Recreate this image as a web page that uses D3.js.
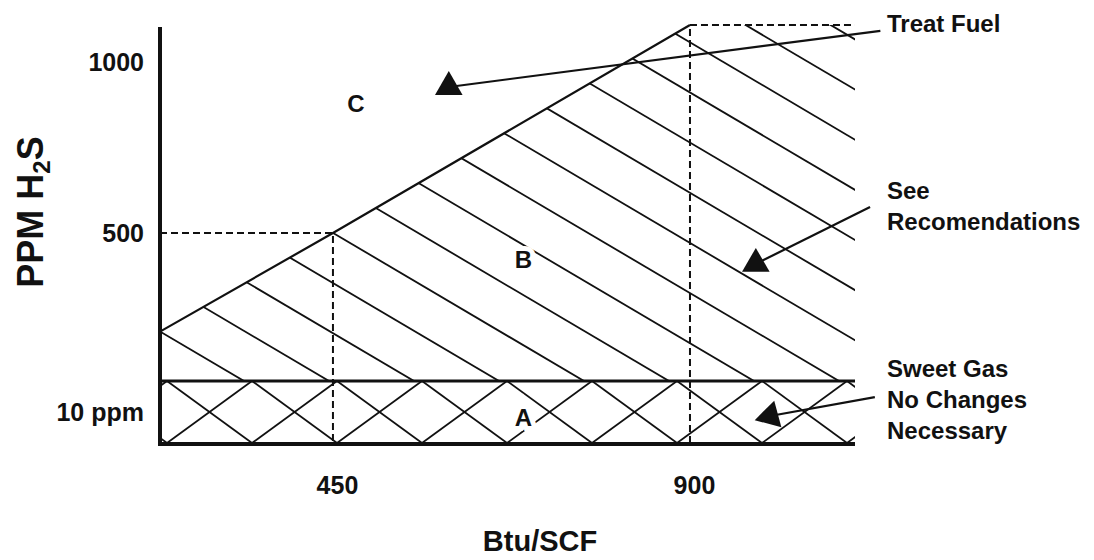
<!DOCTYPE html>
<html><head><meta charset="utf-8">
<script src="https://cdn.jsdelivr.net/npm/d3@7"></script>
<style>
html,body{margin:0;padding:0;background:#fff;}
svg{display:block;font-family:"Liberation Sans",Arial,Helvetica,sans-serif;font-weight:bold;}
</style></head><body>
<svg id="c" width="1094" height="560"></svg>
<script>
// ---- data ----
const xTicks = [450, 900];
const yTicks = [10, 500, 1000];
const yTickLabels = ["10 ppm", "500", "1000"];
const xDomain = [232, 1108];
const yBreaks = [0, 20, 500, 1000, 1108];
const boundary = [[232, 180], [450, 500], [900, 1108]];
const sweetLimit = 20;
const guide500 = [[232, 500], [450, 500], [450, 0]];
const guide900 = [[900, 0], [900, 1108], [1108, 1108]];
const zoneLabels = [
  {t: "C", btu: 479, ppm: 880},
  {t: "B", btu: 690, ppm: 416},
  {t: "A", btu: 690, ppm: 8.4}
];
const arrows = [
  {from: [1140, 1091], to: [596, 927], rot: 0},
  {from: [1127, 576], to: [983, 400], rot: 0},
  {from: [1133, 14.8], to: [1001, 8.7], rot: 15}
];
const notes = [
  {lines: ["Treat Fuel"], y: 32},
  {lines: ["See", "Recomendations"], y: 199},
  {lines: ["Sweet Gas", "No Changes", "Necessary"], y: 377}
];

// ---- layout ----
const svg = d3.select("#c");
const x = d3.scaleLinear().domain(xDomain).range([160, 855]);
const y = d3.scaleLinear().domain(yBreaks).range([443, 381, 233, 62, 25]);
const ink = "#111";
const P = d => [x(d[0]), y(d[1])];

const defs = svg.append("defs");
const regionB = boundary.concat([[xDomain[1], yBreaks[4]], [xDomain[1], sweetLimit], [xDomain[0], sweetLimit]]);
defs.append("clipPath").attr("id", "clipB")
  .append("path").attr("d", "M" + regionB.map(P).join("L") + "Z");
defs.append("clipPath").attr("id", "clipA")
  .append("rect").attr("x", x(xDomain[0])).attr("y", y(sweetLimit))
  .attr("width", x(xDomain[1]) - x(xDomain[0])).attr("height", y(0) - y(sweetLimit));

// hatch of region B
const spacing = 85, slopeB = 0.59, offB = -1;
const yb = y(sweetLimit);
const gB = svg.append("g").attr("clip-path", "url(#clipB)");
for (let k = 0; k <= 17; k++) {
  const xk = x(xDomain[0]) + offB + spacing * k;
  gB.append("line").attr("x1", xk - 1000).attr("y1", yb - slopeB * 1000)
    .attr("x2", xk + 20).attr("y2", yb + slopeB * 20)
    .attr("stroke", ink).attr("stroke-width", 1.8);
}
// cross hatch of band A
const y0 = y(0);
const gA = svg.append("g").attr("clip-path", "url(#clipA)");
for (let k = -1; k <= 9; k++) {
  const xa = x(xDomain[0]) + 7 + spacing * k;
  gA.append("line").attr("x1", xa).attr("y1", yb).attr("x2", xa + spacing).attr("y2", y0)
    .attr("stroke", ink).attr("stroke-width", 1.8);
  gA.append("line").attr("x1", xa).attr("y1", y0).attr("x2", xa + spacing).attr("y2", yb)
    .attr("stroke", ink).attr("stroke-width", 1.8);
}

const line = d3.line().x(d => x(d[0])).y(d => y(d[1]));
[guide500, guide900].forEach(g => svg.append("path").attr("d", line(g))
  .attr("fill", "none").attr("stroke", ink).attr("stroke-width", 2).attr("stroke-dasharray", "7 4"));
svg.append("path").attr("d", line(boundary)).attr("fill", "none").attr("stroke", ink).attr("stroke-width", 2.2);
svg.append("line").attr("x1", x(xDomain[0])).attr("x2", x(xDomain[1]))
  .attr("y1", y(sweetLimit)).attr("y2", y(sweetLimit)).attr("stroke", ink).attr("stroke-width", 3);
svg.append("line").attr("x1", x(xDomain[0])).attr("x2", x(xDomain[1]))
  .attr("y1", y(0) + 1).attr("y2", y(0) + 1).attr("stroke", ink).attr("stroke-width", 4);
svg.append("line").attr("x1", x(xDomain[0])).attr("x2", x(xDomain[0]))
  .attr("y1", y(yBreaks[4]) + 2).attr("y2", y(0) + 3).attr("stroke", ink).attr("stroke-width", 4);

// axes ticks
const ay = svg.append("g").attr("transform", `translate(${x(xDomain[0])},0)`)
  .call(d3.axisLeft(y).tickValues(yTicks).tickFormat((d, i) => yTickLabels[i]).tickSize(0).tickPadding(16));
const ax = svg.append("g").attr("transform", `translate(0,${y(0)})`)
  .call(d3.axisBottom(x).tickValues(xTicks).tickFormat(d3.format("d")).tickSize(0).tickPadding(33));
[ax, ay].forEach(a => {
  a.select(".domain").remove();
  a.attr("font-family", null).attr("font-size", null);
  a.selectAll("text").attr("font-size", 25).attr("fill", ink);
});
ax.selectAll("text").attr("dx", 4);

// axis titles
const yt = svg.append("text").attr("transform", "translate(43,212) rotate(-90)")
  .attr("text-anchor", "middle").attr("font-size", 36).attr("fill", ink);
yt.append("tspan").text("PPM H");
yt.append("tspan").text("2").attr("font-size", 24).attr("dy", 7);
yt.append("tspan").text("S").attr("dy", -7);
svg.append("text").attr("x", 540).attr("y", 551).attr("text-anchor", "middle")
  .attr("font-size", 29).attr("fill", ink).text("Btu/SCF");

// arrows
arrows.forEach(a => {
  const [x1, y1] = P(a.from), [x2, y2] = P(a.to);
  svg.append("line").attr("x1", x1).attr("y1", y1).attr("x2", x2).attr("y2", y2)
    .attr("stroke", ink).attr("stroke-width", 2.2);
  svg.append("path").attr("d", d3.symbol(d3.symbolTriangle).size(330)())
    .attr("transform", `translate(${x2},${y2}) rotate(${a.rot})`).attr("fill", ink);
});

// zone labels
svg.selectAll(".zone").data(zoneLabels).join("text")
  .attr("x", d => x(d.btu)).attr("y", d => y(d.ppm)).attr("dy", "0.36em")
  .attr("text-anchor", "middle").attr("font-size", 24).attr("fill", ink)
  .attr("stroke", "#fff").attr("stroke-width", 10).attr("paint-order", "stroke")
  .text(d => d.t);

// notes
notes.forEach(n => {
  const t = svg.append("text").attr("x", x(xDomain[1]) + 32).attr("y", n.y)
    .attr("font-size", 24).attr("fill", ink);
  n.lines.forEach((s, i) => t.append("tspan").attr("x", x(xDomain[1]) + 32)
    .attr("dy", i ? 31 : 0).text(s));
});
</script>
</body></html>
